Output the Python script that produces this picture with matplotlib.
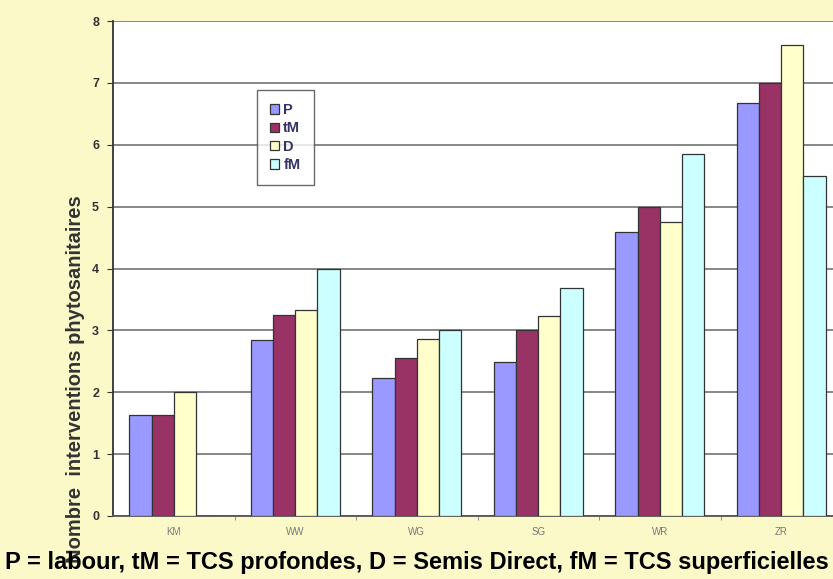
import matplotlib.pyplot as plt
import numpy as np

# interventions per crop and tillage system
crops = ["KM", "WW", "WG", "SG", "WR", "ZR"]
series = ["P", "tM", "D", "fM"]
p_vals = [1.63, 2.84, 2.23, 2.49, 4.59, 6.67]
tm_vals = [1.63, 3.25, 2.55, 3.00, 5.00, 7.00]
d_vals = [2.00, 3.33, 2.86, 3.23, 4.75, 7.61]
fm_vals = [0.00, 4.00, 3.00, 3.68, 5.85, 5.49]
colors = ["#9999FF", "#993366", "#FFFFCC", "#CCFFFF"]

plt.rcParams["font.family"] = ["Liberation Sans", "DejaVu Sans"]

fig = plt.figure(figsize=(8.33, 5.79), dpi=100, facecolor="#FCF9C9")
ax = fig.add_axes([113 / 833, (579 - 516) / 579, 729 / 833, 495 / 579])
ax.set_facecolor("white")

x = np.arange(len(crops))
w = 0.183
for i, (name, vals) in enumerate(zip(series, [p_vals, tm_vals, d_vals, fm_vals])):
    ax.bar(x + (i - 1.5) * w, vals, w, color=colors[i], edgecolor="#333333",
           linewidth=0.9, label=name, zorder=3)

ax.set_xlim(-0.5, len(crops) - 0.5)
ax.set_ylim(0, 8)
ax.set_yticks(range(0, 9))
ax.yaxis.grid(True, color="#666666", linewidth=1.1, zorder=0)
ax.set_axisbelow(True)

ax.set_xticks(x)
ax.set_xticklabels(crops, fontsize=7, color="#777777")
ax.set_xticks(np.arange(0.5, len(crops) - 0.5), minor=True)
ax.tick_params(axis="x", which="major", length=0, pad=8)
ax.tick_params(axis="x", which="minor", length=3, color="#777777")
ax.tick_params(axis="y", length=4, color="#333333", labelsize=9,
               labelcolor="#333333", pad=6)
for lbl in ax.get_yticklabels():
    lbl.set_fontweight("bold")

for side in ["top", "right"]:
    ax.spines[side].set_visible(False)
ax.spines["left"].set_color("#333333")
ax.spines["left"].set_linewidth(1.3)
ax.spines["bottom"].set_color("#555555")
ax.spines["bottom"].set_linewidth(1.3)

fig.text(76 / 833, 1 - 379 / 579, "Nombre  interventions phytosanitaires",
         rotation=90, ha="center", va="center", fontsize=14.5, fontweight="bold",
         color="#333333")

leg = ax.legend(loc="upper left", bbox_to_anchor=((257 - 113) / 729, (516 - 90) / 495),
                fontsize=10.5, frameon=True, fancybox=False, handlelength=0.6,
                handleheight=0.6, handletextpad=0.3, borderpad=0.9, labelspacing=0.3,
                borderaxespad=0, edgecolor="#444444")
leg.get_frame().set_linewidth(1.0)
for t in leg.get_texts():
    t.set_fontweight("bold")
    t.set_color("#333366")

fig.text(417 / 833, 1 - 563 / 579,
         "P = labour, tM = TCS profondes, D = Semis Direct, fM = TCS superficielles",
         ha="center", va="center", fontsize=17, fontweight="bold", color="black")

fig.savefig("out.png", dpi=100, facecolor=fig.get_facecolor())
